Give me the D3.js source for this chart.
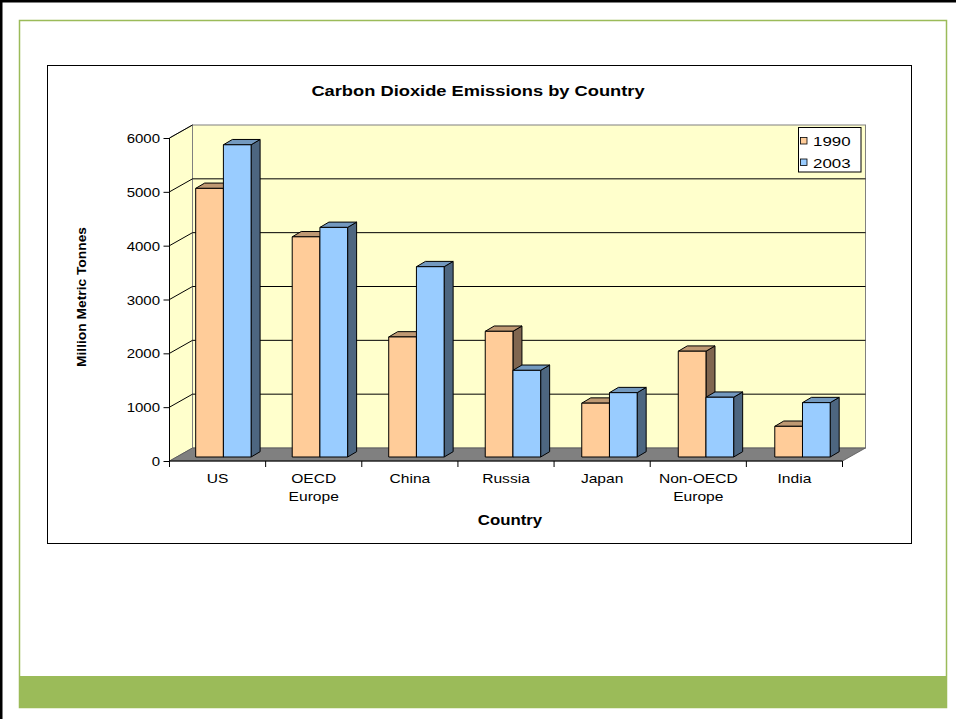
<!DOCTYPE html>
<html><head><meta charset="utf-8">
<script src="https://cdn.jsdelivr.net/npm/d3@7"></script>
<style>body{margin:0;background:#fff}svg{display:block;font-family:"Liberation Sans",Arial,sans-serif}</style>
</head><body>
<svg id="c" width="956" height="719"></svg>
<script>
const categories = [["US"],["OECD","Europe"],["China"],["Russia"],["Japan"],["Non-OECD","Europe"],["India"]];
const series = ["1990","2003"];
const values1990 = [4990, 4090, 2230, 2335, 1000, 1965, 570];
const values2003 = [5800, 4265, 3535, 1610, 1195, 1110, 1010];
const yTicks = [0,1000,2000,3000,4000,5000,6000];
const titleText = "Carbon Dioxide Emissions by Country";
const yTitle = "Million Metric Tonnes";
const xTitle = "Country";

const svg = d3.select("#c");
const SX = 1.2;
const catKeys = categories.map(c => c.join(" "));
const colors = {"1990":{front:"#FFCC99",top:"#BF9973",side:"#806650"},
                "2003":{front:"#99CCFF",top:"#7399BF",side:"#4D6680"}};

// page frame
svg.append("rect").attr("x",0).attr("y",0).attr("width",956).attr("height",2.5).attr("fill","#000");
svg.append("rect").attr("x",0).attr("y",0).attr("width",2.5).attr("height",719).attr("fill","#000");
svg.append("rect").attr("x",19.5).attr("y",20.5).attr("width",927).attr("height",687).attr("fill","none").attr("stroke","#9BBB59").attr("stroke-width",1.5);
svg.append("rect").attr("x",19.5).attr("y",676).attr("width",927).attr("height",31.5).attr("fill","#9BBB59");

// chart box
svg.append("rect").attr("x",47.5).attr("y",65.5).attr("width",864).attr("height",478).attr("fill","#fff").attr("stroke","#000").attr("stroke-width",1);

function stext(g, x, y, txt, size, weight, anchor, sx){
  return g.append("text").attr("transform",`translate(${x},${y}) scale(${sx||SX},1)`)
    .attr("font-size",size).attr("font-weight",weight||"normal").attr("text-anchor",anchor||"middle").attr("fill","#000").text(txt);
}
stext(svg, 478, 96, titleText, 15, "bold", "middle", 1.22);

// scales
const x = d3.scaleBand().domain(catKeys).range([169.5, 842.5]).padding(0);
const y = d3.scaleLinear().domain([0,6000]).range([461,138]);
const DX = 23, DY = -13; // wall depth
const BDX = 26.2, BDY = -4; // bar plane offset
const xb = d3.scaleBand().domain(catKeys).range([169.5+BDX, 842.5+BDX+2.6]).padding(0);
const xs = d3.scaleBand().domain(series).range([0, 55.4]).padding(0);
const SDX = 9, SDY = -5.3; // bar depth

const x0 = x.range()[0], x1 = x.range()[1];
const yb = y(0), yt = y(6000);

// back wall
svg.append("rect").attr("x",x0+DX).attr("y",yt+DY).attr("width",x1-x0).attr("height",yb-yt).attr("fill","#FFFFCC").attr("stroke","#808080").attr("stroke-width",1);
// left wall
svg.append("polygon").attr("points",[[x0,yb],[x0,yt],[x0+DX,yt+DY],[x0+DX,yb+DY]].join(" ")).attr("fill","#FFFFCC").attr("stroke","#808080").attr("stroke-width",1);
// gridlines
const grid = svg.append("g").attr("stroke","#000").attr("stroke-width",1);
yTicks.filter(v => v>0 && v<6000).forEach(v=>{
  grid.append("line").attr("x1",x0+DX).attr("x2",x1+DX).attr("y1",y(v)+DY).attr("y2",y(v)+DY);
});
yTicks.filter(v => v>0).forEach(v=>{
  grid.append("line").attr("x1",x0).attr("x2",x0+DX).attr("y1",y(v)).attr("y2",y(v)+DY);
});
// floor
svg.append("polygon").attr("points",[[x0,yb],[x1,yb],[x1+DX,yb+DY],[x0+DX,yb+DY]].join(" ")).attr("fill","#808080").attr("stroke","#555").attr("stroke-width",0.8);

// bars
const bars = svg.append("g").attr("stroke","#000").attr("stroke-width",1).attr("stroke-linejoin","round");
catKeys.forEach((k,i)=>{
  [["1990",values1990[i]],["2003",values2003[i]]].forEach(([s,v])=>{
    const bx = xb(k)+xs(s), w = xs.bandwidth();
    const top = y(v)+BDY, bot = y(0)+BDY;
    const c = colors[s];
    bars.append("polygon").attr("points",[[bx+w,bot],[bx+w,top],[bx+w+SDX,top+SDY],[bx+w+SDX,bot+SDY]].join(" ")).attr("fill",c.side);
    bars.append("polygon").attr("points",[[bx,top],[bx+w,top],[bx+w+SDX,top+SDY],[bx+SDX,top+SDY]].join(" ")).attr("fill",c.top);
    bars.append("rect").attr("x",bx).attr("y",top).attr("width",w).attr("height",bot-top).attr("fill",c.front);
  });
});

// y axis
const yAxis = svg.append("g").attr("transform",`translate(${x0},0)`)
  .call(d3.axisLeft(y).tickValues(yTicks).tickFormat(d3.format("d")).tickSize(6).tickPadding(3));
yAxis.select(".domain").attr("stroke","#000").attr("d",`M0,${yt}V${yb}`);
yAxis.selectAll(".tick line").attr("stroke","#000");
yAxis.selectAll(".tick text").attr("font-size",12.5).attr("font-family","Liberation Sans, Arial, sans-serif")
  .attr("fill","#000").attr("dy","0.36em").attr("x",null)
  .attr("transform",`translate(-9.5,0) scale(${SX},1)`);

// x axis
const xAxis = svg.append("g").attr("transform",`translate(0,${yb})`)
  .call(d3.axisBottom(x).tickSize(0).tickFormat(""));
xAxis.select(".domain").attr("stroke","#000").attr("d",`M${x0},0H${x1}`);
const bounds = catKeys.map(k=>x(k)).concat([x1]);
bounds.forEach(b=>xAxis.append("line").attr("x1",b).attr("x2",b).attr("y1",0).attr("y2",6).attr("stroke","#000"));
categories.forEach((lines,i)=>{
  const cx = x(catKeys[i]) + x.bandwidth()/2;
  lines.forEach((ln,j)=>stext(svg, cx, 483 + j*18, ln, 13));
});

// axis titles
stext(svg, 510, 525, xTitle, 14, "bold");
svg.append("text").attr("transform",`translate(85.5,297) rotate(-90) scale(1.15,1)`)
  .attr("font-size",12).attr("font-weight","bold").attr("text-anchor","middle").text(yTitle);

// legend
const lg = svg.append("g");
lg.append("rect").attr("x",798.5).attr("y",127.5).attr("width",62.5).attr("height",44.5).attr("fill","#fff").attr("stroke","#000");
series.forEach((s,i)=>{
  const yy = 137.5 + i*21.5;
  lg.append("rect").attr("x",800.5).attr("y",yy).attr("width",6.5).attr("height",6.5).attr("fill",colors[s].front).attr("stroke","#000").attr("stroke-width",0.8);
  stext(lg, 813, yy+8.5, s, 13.5, "normal", "start", 1.25);
});
</script>
</body></html>
